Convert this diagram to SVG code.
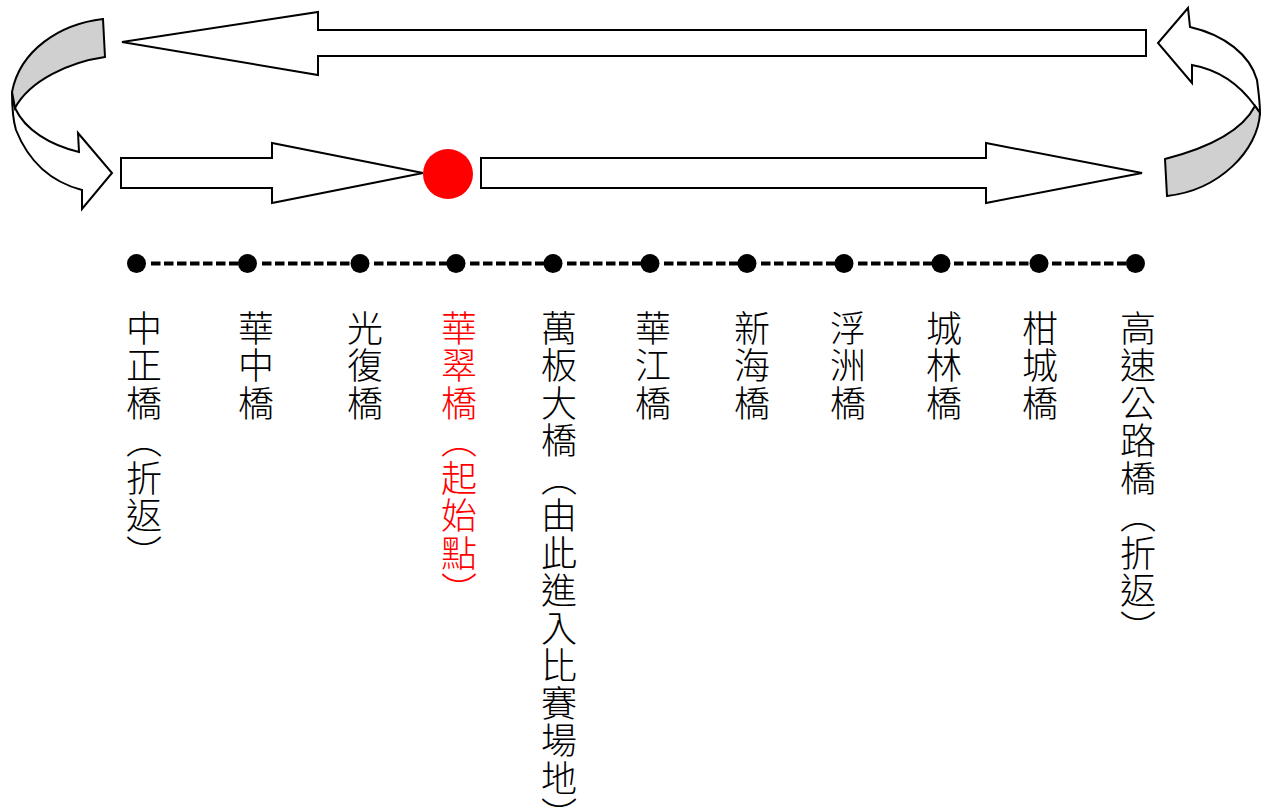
<svg xmlns="http://www.w3.org/2000/svg" width="1264" height="810" viewBox="0 0 1264 810">
<style>
.ar{fill:#fff;stroke:#000;stroke-width:2;stroke-linejoin:miter}
.gr{fill:#d0d0d0;stroke:#000;stroke-width:2}
.dot{fill:#000}
.dash{stroke:#000;stroke-width:4;stroke-dasharray:9.5 3.5;fill:none}
.lbl{font-family:"Noto Sans CJK TC","Noto Sans CJK SC",sans-serif;font-size:36px;font-weight:300;letter-spacing:1.5px;fill:#000;writing-mode:vertical-rl}
.red{fill:#ff0000}
</style>
<rect width="1264" height="810" fill="#fff"/>
<g id="connectors">
  <path class="ar" d="M122,42 L318,12 L318,30 L1146,30 L1146,56 L318,56 L318,75 Z"/>
  <path class="ar" d="M121,158 L272,158 L272,143 L423,173 L272,203 L272,188 L121,188 Z"/>
  <path class="ar" d="M481,158 L986,158 L986,143 L1142,173 L986,203 L986,188 L481,188 Z"/>
  <path class="ar" d="M12,92 C12,110 13,120 16,130 C30,165 55,183 82,190 L82,209 L112,173 L78,133 L79,152 C50,145 25,130 15,108 Z"/>
  <path class="gr" d="M103,19 C60,24 20,50 12,92 L15,108 C30,80 70,62 105,57 Z"/>
  <path class="ar" d="M1255,106 C1240,85 1220,70 1192,65 L1192,83 L1158,43 L1188,8 L1190,27 C1225,35 1250,55 1257,80 C1259,95 1260,105 1260,113 Z"/>
  <path class="gr" d="M1165,159 C1200,150 1240,135 1255,106 L1260,113 C1258,150 1220,190 1167,196 Z"/>
  <g id="timeline">
    <line class="dash" x1="151" y1="263.5" x2="240" y2="263.5"/>
    <line class="dash" x1="262" y1="263.5" x2="352" y2="263.5"/>
    <line class="dash" x1="374" y1="263.5" x2="448" y2="263.5"/>
    <line class="dash" x1="470" y1="263.5" x2="545" y2="263.5"/>
    <line class="dash" x1="567" y1="263.5" x2="642" y2="263.5"/>
    <line class="dash" x1="664" y1="263.5" x2="739" y2="263.5"/>
    <line class="dash" x1="761" y1="263.5" x2="836" y2="263.5"/>
    <line class="dash" x1="858" y1="263.5" x2="932" y2="263.5"/>
    <line class="dash" x1="954" y1="263.5" x2="1030" y2="263.5"/>
    <line class="dash" x1="1052" y1="263.5" x2="1127" y2="263.5"/>
  </g>
</g>
<g id="start-marker"><circle cx="448" cy="174" r="25" fill="#ff0000"/></g>
<g id="n1"><circle class="dot" cx="136.5" cy="263.5" r="9.5"/><text class="lbl" x="144" y="310">中正橋（折返）</text></g>
<g id="n2"><circle class="dot" cx="247.5" cy="263.5" r="9.5"/><text class="lbl" x="256" y="310">華中橋</text></g>
<g id="n3"><circle class="dot" cx="360" cy="263.5" r="9.5"/><text class="lbl" x="365" y="310">光復橋</text></g>
<g id="n4"><circle class="dot" cx="456" cy="263.5" r="9.5"/><text class="lbl red" x="459" y="310">華翠橋（起始點）</text></g>
<g id="n5"><circle class="dot" cx="553" cy="263.5" r="9.5"/><text class="lbl" x="559" y="310">萬板大橋（由此進入比賽場地）</text></g>
<g id="n6"><circle class="dot" cx="650" cy="263.5" r="9.5"/><text class="lbl" x="653" y="310">華江橋</text></g>
<g id="n7"><circle class="dot" cx="747" cy="263.5" r="9.5"/><text class="lbl" x="752" y="310">新海橋</text></g>
<g id="n8"><circle class="dot" cx="844" cy="263.5" r="9.5"/><text class="lbl" x="848" y="310">浮洲橋</text></g>
<g id="n9"><circle class="dot" cx="941" cy="263.5" r="9.5"/><text class="lbl" x="944" y="310">城林橋</text></g>
<g id="n10"><circle class="dot" cx="1039" cy="263.5" r="9.5"/><text class="lbl" x="1040" y="310">柑城橋</text></g>
<g id="n11"><circle class="dot" cx="1135.5" cy="263.5" r="9.5"/><text class="lbl" x="1138" y="310">高速公路橋（折返）</text></g>
</svg>
